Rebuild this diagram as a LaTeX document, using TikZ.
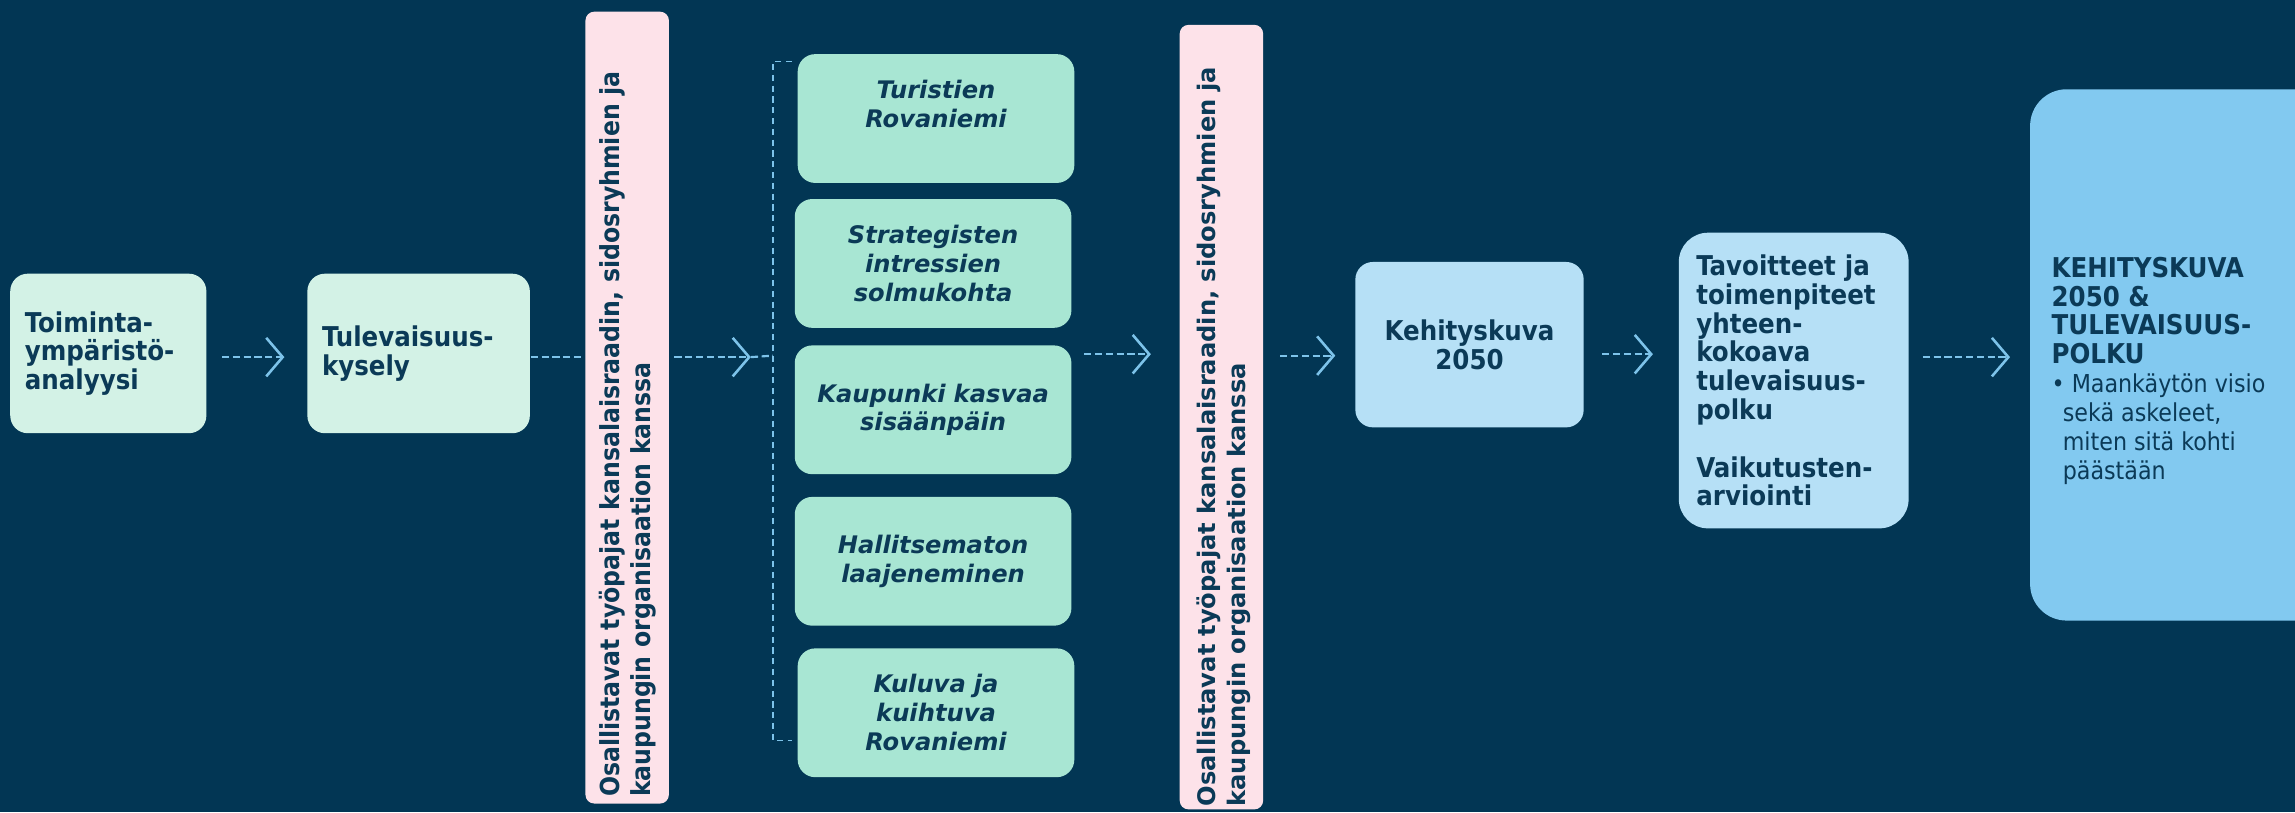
\documentclass[tikz,border=0pt]{standalone}
\usepackage{fontspec}
\setmainfont{DejaVu Sans}
\newfontfamily\condfont{DejaVu Sans Condensed}
\usetikzlibrary{arrows.meta}

\definecolor{navy}{HTML}{023654}
\definecolor{ink}{HTML}{0B3A57}
\definecolor{mintlight}{HTML}{D3F2E6}
\definecolor{mint}{HTML}{A8E6D3}
\definecolor{rosa}{HTML}{FDE2E9}
\definecolor{skylight}{HTML}{B6E0F6}
\definecolor{sky}{HTML}{82C9F0}
\definecolor{arrowblue}{HTML}{7DC3EA}

\newcommand{\stepfont}{\condfont\bfseries\fontsize{5.3}{5.6}\selectfont}
\newcommand{\scenfont}{\bfseries\itshape\fontsize{4.7}{5.6}\selectfont}
\newcommand{\bulletfont}{\mdseries\fontsize{4.8}{5.6}\selectfont}

\tikzset{
    box/.style={rounded corners=0.12cm, text=ink, inner sep=0pt, font=\stepfont},
    stepbox/.style={box, fill=mintlight, minimum height=1.09cm, align=left, inner xsep=0.1cm},
    scenbox/.style={box, fill=mint, minimum width=1.89cm, minimum height=0.88cm,
        align=center, text width=1.8cm, font=\scenfont},
    barbox/.style={fill=rosa, rounded corners=0.06cm, minimum width=0.57cm, inner sep=0pt},
    bartext/.style={rotate=90, text=ink, align=left, inner sep=0pt},
    flow/.style={draw=arrowblue, line width=0.42pt, dash pattern=on 1.4pt off 0.7pt,
        -{Straight Barb[length=3.2pt, width=7.5pt, line width=0.5pt]}},
    dashline/.style={draw=arrowblue, line width=0.42pt, dash pattern=on 1.4pt off 0.7pt},
    bracket/.style={draw=arrowblue, line width=0.3pt, dash pattern=on 1.2pt off 0.9pt}
}

\begin{document}
\begin{tikzpicture}
    % Background
    \fill[navy] (0,0) rectangle (15.68,5.55);
    \clip (0,0) rectangle (15.68,5.55);

    % Start
    \node[stepbox, minimum width=1.34cm, text width=1.14cm] (analyysi) at (0.74,3.135)
        {Toiminta-\\ympäristö-\\analyysi};
    \node[stepbox, minimum width=1.52cm, text width=1.32cm] (kysely) at (2.86,3.135)
        {Tulevaisuus-\\kysely};

    % First workshops
    \node[barbox, minimum height=5.41cm] (paja1) at (4.285,2.765) {};
    \node[bartext, font=\condfont\bfseries\fontsize{5.1}{6}\selectfont, text width=5.32cm]
        (paja1txt) at (4.29,2.765)
        {Osallistavat työpajat kansalaisraadin, sidosryhmien ja\\kaupungin organisaation kanssa};

    % Scenarios
    \node[scenbox] (turistit) at (6.395,4.74) {Turistien\\Rovaniemi\\\mbox{}};
    \node[scenbox] (solmu) at (6.375,3.75) {Strategisten\\intressien\\solmukohta};
    \node[scenbox] (sisaan) at (6.375,2.75) {Kaupunki kasvaa\\sisäänpäin};
    \node[scenbox] (laaje) at (6.375,1.715) {Hallitsematon\\laajeneminen};
    \node[scenbox] (kuluva) at (6.395,0.68) {Kuluva ja\\kuihtuva\\Rovaniemi};

    % Second workshops
    \node[barbox, minimum height=5.36cm] (paja2) at (8.345,2.70) {};
    \node[bartext, font=\bfseries\fontsize{4.7}{5.7}\selectfont, text width=5.5cm]
        (paja2txt) at (8.36,2.79)
        {Osallistavat työpajat kansalaisraadin, sidosryhmien ja\\kaupungin organisaation kanssa};

    % Results
    \node[box, fill=skylight, minimum width=1.56cm, minimum height=1.13cm, align=center]
        (kuva) at (10.04,3.195) {Kehityskuva\\2050};
    \node[box, fill=skylight, rounded corners=0.2cm, minimum width=1.57cm, minimum height=2.02cm,
        text width=1.33cm, align=left] (polku) at (12.255,2.95)
        {Tavoitteet ja\\toimenpiteet\\yhteen-\\kokoava\\tulevaisuus-\\polku\\[5.6pt]Vaikutusten-\\arviointi};
    \node[box, fill=sky, rounded corners=0.25cm, minimum width=2.13cm, minimum height=3.63cm]
        (loppu) at (14.935,3.125) {};
    \node[anchor=north west, text=ink, inner sep=0pt, align=left, font=\stepfont]
        (lopputxt) at (14.01,3.80)
        {KEHITYSKUVA\\2050 \&\\TULEVAISUUS-\\POLKU\\
        {\bulletfont • Maankäytön visio}\\{\bulletfont\ \,sekä askeleet,}\\
        {\bulletfont\ \,miten sitä kohti}\\{\bulletfont\ \,päästään}};

    % Connectors
    \coordinate (taso) at (0,3.11);
    \coordinate (kulma) at (5.13,3.11);
    \coordinate (haara) at (5.28,3.12);
    \draw[flow, shorten <=0.1cm, shorten >=0.15cm] (analyysi.east |- taso) -- (kysely.west |- taso);
    \draw[dashline] (kysely.east |- taso) -- (paja1.west |- taso);
    \draw[flow, shorten <=0.03cm] (paja1.east |- taso) -- (kulma);
    \draw[dashline] (kulma) -- (haara);
    \draw[flow, shorten <=0.08cm, shorten >=0.19cm] (sisaan.east |- 0,3.13) -- (paja2.west |- 0,3.13);
    \draw[flow, shorten <=0.11cm, shorten >=0.13cm] (paja2.east |- 0,3.12) -- (kuva.west |- 0,3.12);
    \draw[flow, shorten <=0.12cm, shorten >=0.17cm] (kuva.east |- 0,3.13) -- (polku.west |- 0,3.13);
    \draw[flow, shorten <=0.09cm, shorten >=0.13cm] (polku.east |- taso) -- (loppu.west |- taso);

    % Bracket around scenarios
    \draw[bracket] (5.41,5.13) -- (5.28,5.13) -- (5.28,0.49) -- (5.41,0.49);
\end{tikzpicture}
\end{document}
